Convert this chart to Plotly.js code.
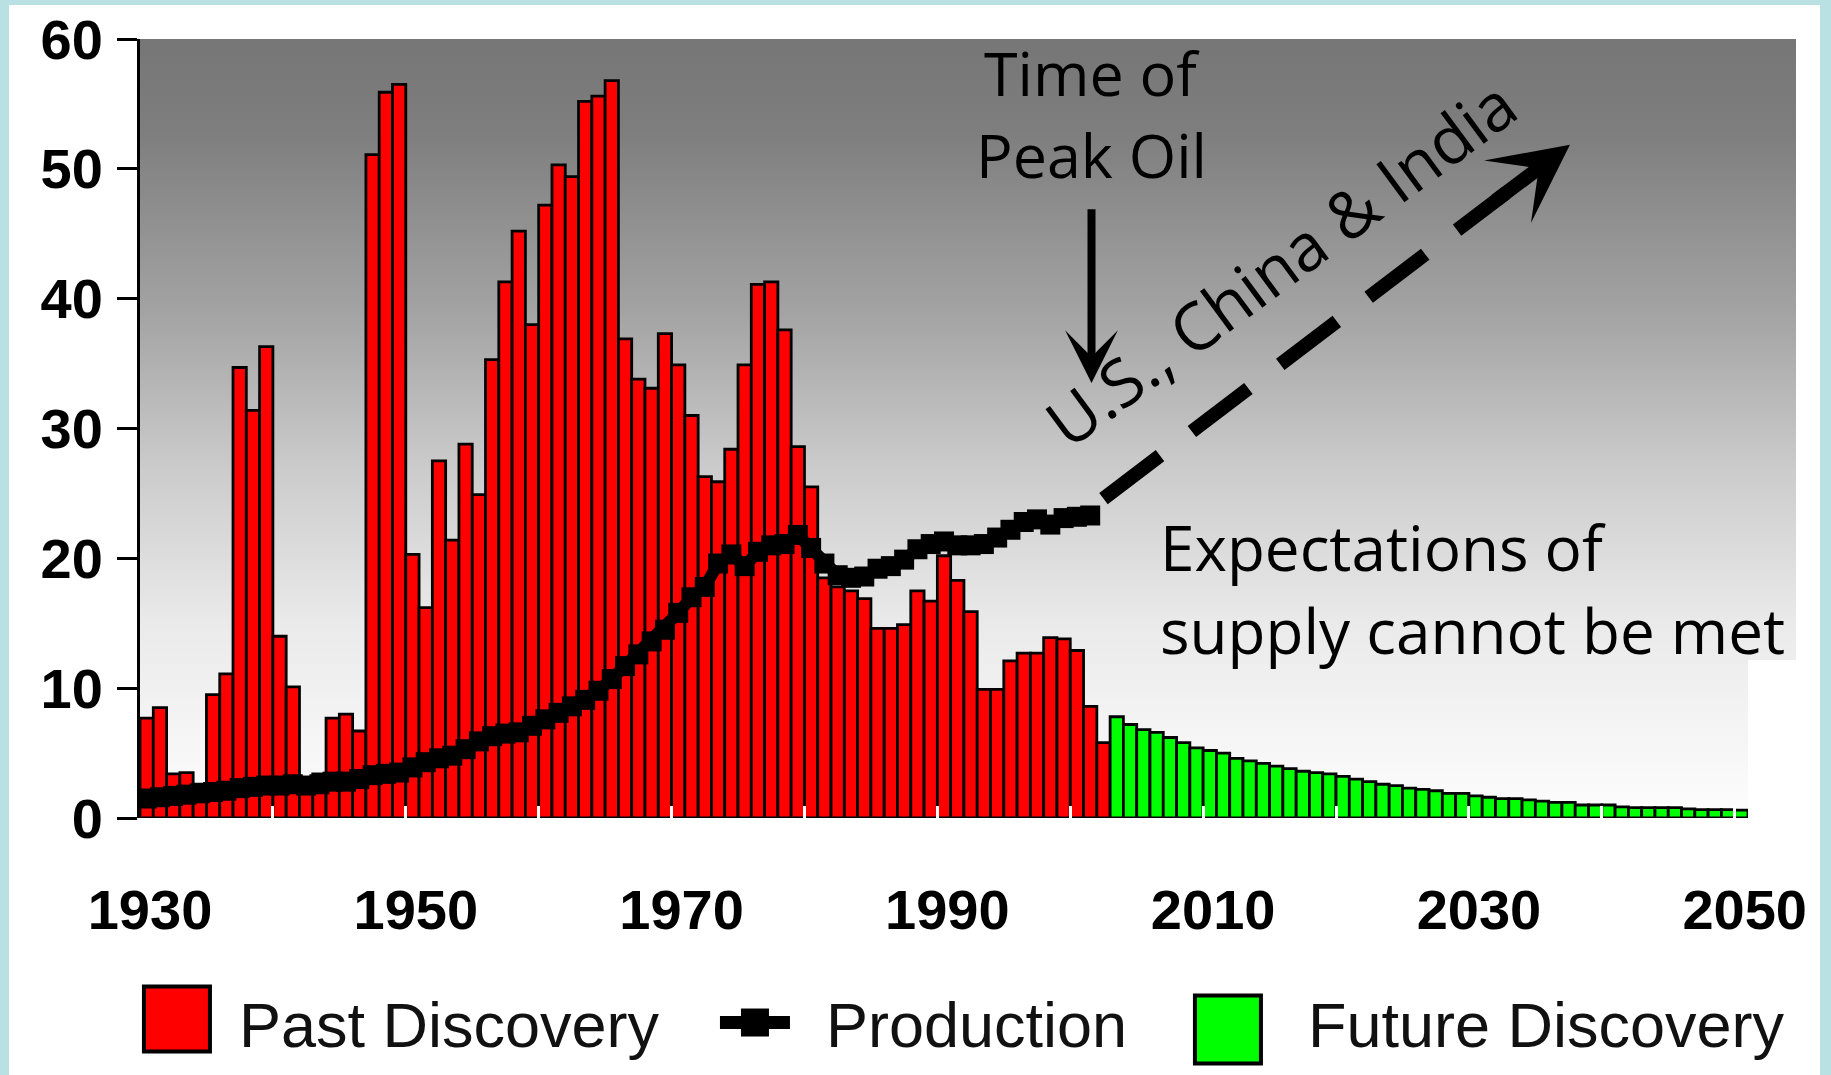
<!DOCTYPE html>
<html>
<head>
<meta charset="utf-8">
<script src="https://cdn.plot.ly/plotly-3.0.1.min.js"></script>
<style>
html,body{margin:0;padding:0;background:#b9e0e3;width:1831px;height:1075px;overflow:hidden;}
#chart{position:absolute;left:9px;top:5px;width:1811px;height:1070px;background:#fff;}
</style>
</head>
<body>
<div id="chart"></div>
<script>
// ---------------- DATA ----------------
const pastStartYear = 1930;   // first "Past Discovery" year
const prodStartYear = 1930;   // first "Production" year
const futureStartYear = 2003; // first "Future Discovery" year

// Past discovery (Gb/yr), 1930-2002
const pastDiscovery = [
  7.7, 8.5, 3.4, 3.5, 2.6, 9.5, 11.1, 34.7, 31.4, 36.3,
  14.0, 10.1, 3.0, 3.4, 7.7, 8.0, 6.7, 51.1, 55.9, 56.5,
  20.3, 16.2, 27.5, 21.4, 28.8, 24.9, 35.3, 41.3, 45.2, 38.0,
  47.2, 50.3, 49.4, 55.2, 55.6, 56.8, 36.9, 33.8, 33.1, 37.3,
  34.9, 31.0, 26.3, 25.9, 28.4, 34.9, 41.1, 41.3, 37.6, 28.6,
  25.5, 18.5, 17.8, 17.5, 16.9, 14.6, 14.6, 14.9, 17.5, 16.7,
  20.2, 18.3, 15.9, 9.9, 9.9, 12.1, 12.7, 12.7, 13.9, 13.8,
  12.9, 8.6, 5.8
];

// Production (Gb/yr), 1930-2001
const production = [
  1.5, 1.6, 1.7, 1.8, 1.9, 2.0, 2.1, 2.3, 2.4, 2.5,
  2.5, 2.6, 2.5, 2.6, 2.8, 2.8, 3.0, 3.3, 3.4, 3.5,
  3.9, 4.3, 4.6, 4.8, 5.3, 5.9, 6.3, 6.5, 6.6, 7.1,
  7.6, 8.1, 8.6, 9.1, 9.8, 10.7, 11.7, 12.6, 13.6, 14.5,
  15.8, 17.0, 17.8, 19.6, 20.3, 19.4, 20.5, 21.0, 21.1, 21.8,
  20.8, 19.6, 18.7, 18.5, 18.6, 19.2, 19.4, 19.9, 20.7, 21.1,
  21.3, 21.0, 21.0, 21.1, 21.6, 22.2, 22.8, 23.0, 22.6, 23.1,
  23.2, 23.3
];

// Future discovery (Gb/yr), 2003-2050
const futureDiscovery = [
  7.8, 7.2, 6.8, 6.6, 6.2, 5.8, 5.4, 5.2, 5.0, 4.6,
  4.4, 4.2, 4.0, 3.8, 3.6, 3.5, 3.4, 3.2, 3.0, 2.8,
  2.6, 2.5, 2.3, 2.2, 2.1, 1.9, 1.9, 1.7, 1.6, 1.5,
  1.5, 1.4, 1.3, 1.2, 1.2, 1.0, 1.0, 1.0, 0.85, 0.8,
  0.8, 0.8, 0.8, 0.7, 0.65, 0.65, 0.65, 0.6
];

const xTickYears = [1930, 1950, 1970, 1990, 2010, 2030, 2050];
const decadeMarks = [1940, 1950, 1960, 1970, 1980, 1990, 2000, 2010, 2020, 2030, 2040, 2050];
const seriesNames = ['Past Discovery', 'Production', 'Future Discovery'];

// ---------------- BUILD ----------------
const pastYears = pastDiscovery.map((_, i) => pastStartYear + i);
const prodYears = production.map((_, i) => prodStartYear + i);
const futureYears = futureDiscovery.map((_, i) => futureStartYear + i);

function makeGradient() {
  const w = 1656, h = 779;
  const c = document.createElement('canvas');
  c.width = w; c.height = h;
  const g = c.getContext('2d');
  const gr = g.createLinearGradient(0, 0, 0, h);
  gr.addColorStop(0.00, '#767676');
  gr.addColorStop(0.12, '#7e7e7e');
  gr.addColorStop(0.35, '#a3a3a3');
  gr.addColorStop(0.55, '#cbcbcb');
  gr.addColorStop(0.75, '#eaeaea');
  gr.addColorStop(1.00, '#fdfdfd');
  g.fillStyle = gr;
  g.fillRect(0, 0, w, h);
  g.clearRect(1608, 621, 48, 158);
  return c.toDataURL('image/png');
}

const tickFont = {family: 'Liberation Sans, Arial, sans-serif', size: 56, color: '#000', weight: 'bold'};
const legendFont = {family: 'Liberation Sans, Arial, sans-serif', size: 63, color: '#111'};
const noteFamily = 'Comic Sans MS, Open Sans, sans-serif';

const data = [
  {
    type: 'bar', name: seriesNames[0], x: pastYears, y: pastDiscovery,
    width: 1, offset: 0,
    marker: {color: '#ff0000', line: {color: '#000', width: 2.8}},
    legend: 'legend', hoverinfo: 'x+y'
  },
  {
    type: 'bar', name: seriesNames[2], x: futureYears, y: futureDiscovery,
    width: 1, offset: 0,
    marker: {color: '#00ff00', line: {color: '#000', width: 2.8}},
    legend: 'legend3', hoverinfo: 'x+y'
  },
  {
    type: 'scatter', mode: 'lines+markers', name: seriesNames[1],
    x: prodYears.map(y => y + 0.5), y: production,
    line: {color: '#000', width: 12},
    marker: {symbol: 'square', size: 20, color: '#000'},
    legend: 'legend2', hoverinfo: 'x+y'
  }
];

function legendBox(x, y, itemwidth) {
  return {
    xref: 'container', yref: 'container', x: x, y: y,
    xanchor: 'left', yanchor: 'middle', orientation: 'h',
    font: legendFont, itemwidth: itemwidth,
    bgcolor: 'rgba(0,0,0,0)', borderwidth: 0
  };
}

const layout = {
  width: 1811, height: 1070,
  margin: {l: 131, r: 72, t: 34, b: 257, pad: 0},
  paper_bgcolor: '#ffffff',
  plot_bgcolor: 'rgba(0,0,0,0)',
  barmode: 'overlay',
  bargap: 0,
  showlegend: true,
  xaxis: {
    range: [1930, 2051], tickmode: 'array', tickvals: xTickYears,
    ticktext: xTickYears.map(String), ticks: '',
    showgrid: false, zeroline: false, showline: false,
    tickfont: tickFont, ticklabelstandoff: 54, ticklabelshift: 10,
    minor: {tickmode: 'array', tickvals: decadeMarks, ticks: 'inside', ticklen: 12, tickwidth: 3, tickcolor: '#ffffff', showgrid: false}
  },
  yaxis: {
    range: [0, 60], tick0: 0, dtick: 10, ticks: 'outside', ticklen: 20, tickwidth: 3, tickcolor: '#000',
    showline: true, linewidth: 3, linecolor: '#000', showgrid: false, zeroline: false,
    tickfont: tickFont, ticklabelstandoff: 3
  },
  yaxis2: {
    overlaying: 'y', side: 'left', range: [0, 60], tick0: 0, dtick: 10,
    ticks: 'inside', ticklen: 18, tickwidth: 3, tickcolor: '#000',
    showticklabels: false, showgrid: false, zeroline: false, showline: false
  },
  legend: legendBox(0.0585, 0.049, 114),
  legend2: legendBox(0.3727, 0.049, 132),
  legend3: legendBox(0.6289, 0.049, 150),
  images: [{
    source: makeGradient(), xref: 'paper', yref: 'paper',
    x: 0, y: 1, sizex: 1656 / 1608, sizey: 1, sizing: 'stretch',
    xanchor: 'left', yanchor: 'top', layer: 'below'
  }],
  shapes: [{
    type: 'line', xref: 'x', yref: 'y',
    x0: 2002.5, y0: 24.6, x1: 2032.8, y1: 48.15,
    line: {color: '#000', width: 14, dash: '71px,40px'}
  }],
  annotations: [
    {xref: 'x', yref: 'y', x: 2001.6, y: 57.4, text: 'Time of', showarrow: false,
     font: {family: noteFamily, size: 61, color: '#000'}, xanchor: 'center', yanchor: 'middle'},
    {xref: 'x', yref: 'y', x: 2001.6, y: 51.1, text: 'Peak Oil', showarrow: false,
     font: {family: noteFamily, size: 61, color: '#000'}, xanchor: 'center', yanchor: 'middle'},
    {xref: 'x', yref: 'y', x: 2001.6, y: 33.5, axref: 'x', ayref: 'y', ax: 2001.6, ay: 47.0,
     text: '', showarrow: true, arrowhead: 3, arrowwidth: 8, arrowsize: 1.1, arrowcolor: '#000'},
    {xref: 'x', yref: 'y', x: 2037.6, y: 51.85, axref: 'x', ayref: 'y', ax: 2031.9, ay: 47.46,
     text: '', showarrow: true, arrowhead: 3, arrowwidth: 14, arrowsize: 0.93, arrowcolor: '#000'},
    {xref: 'x', yref: 'y', x: 2015.8, y: 42.8, text: 'U.S., China &amp; India', showarrow: false,
     textangle: -36.5, font: {family: noteFamily, size: 66, color: '#000'}, xanchor: 'center', yanchor: 'middle'},
    {xref: 'x', yref: 'y', x: 2006.6, y: 20.9, text: 'Expectations of', showarrow: false,
     font: {family: noteFamily, size: 62, color: '#000'}, xanchor: 'left', yanchor: 'middle', align: 'left'},
    {xref: 'x', yref: 'y', x: 2006.6, y: 14.5, text: 'supply cannot be met', showarrow: false,
     font: {family: noteFamily, size: 62, color: '#000'}, xanchor: 'left', yanchor: 'middle', align: 'left'}
  ]
};

// per-legend swatch geometry (relative to the legend symbol centre)
const swatchPaths = {
  'Past Discovery': 'M33,29H-33V-36H33Z',
  'Future Discovery': 'M33,41H-33V-27H33Z'
};

const gd = document.getElementById('chart');
Plotly.newPlot(gd, data, layout, {displayModeBar: false, staticPlot: true}).then(function () {
  gd.querySelectorAll('g.traces').forEach(function (item) {
    const d = item.__data__;
    if (!d || !d[0] || !d[0].trace) return;
    const tr = d[0].trace;
    if (tr.type === 'bar') {
      item.querySelectorAll('.legendpoints path').forEach(function (p) {
        p.setAttribute('d', swatchPaths[tr.name] || 'M33,32H-33V-32H33Z');
        p.style.strokeWidth = '4px';
      });
    } else if (tr.type === 'scatter') {
      let c = 5 + 132 / 2;
      const mk = item.querySelector('.legendpoints path');
      if (mk) {
        const m = /translate\(\s*([-\d.]+)/.exec(mk.getAttribute('transform') || '');
        if (m) c = parseFloat(m[1]);
        mk.setAttribute('d', 'M14,14H-14V-14H14Z');
      }
      item.querySelectorAll('.legendlines path').forEach(function (p) {
        p.setAttribute('d', 'M' + (c - 35) + ',0h70');
        p.style.strokeWidth = '13px';
      });
    }
  });
});
</script>
</body>
</html>
